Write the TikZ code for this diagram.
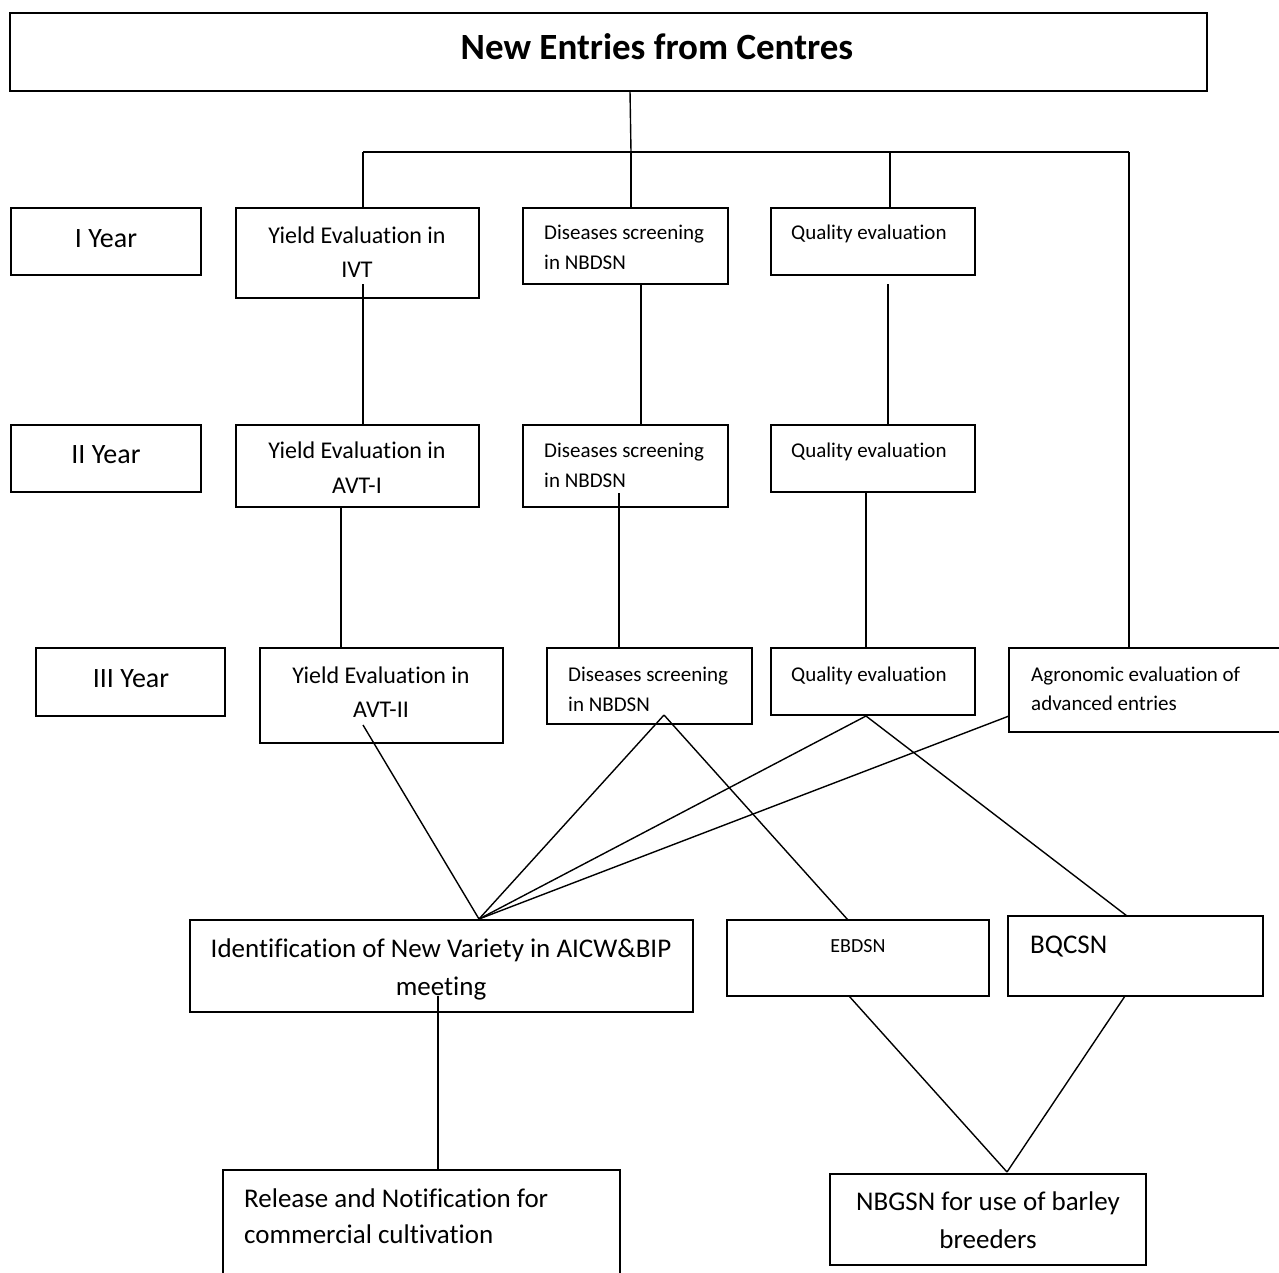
\documentclass[tikz,border=0pt]{standalone}
\usepackage{fontspec}
\setmainfont{Carlito}[Ligatures={NoCommon,NoRare,NoContextual}]
\usetikzlibrary{fit}
\begin{document}
\begin{tikzpicture}[x=1pt,y=-1pt,
  box/.style={draw, line width=1.7pt, inner sep=0pt, rectangle},
  conn/.style={line width=1.4pt},
  tb/.style={inner sep=0pt, anchor=base},
  tl/.style={inner sep=0pt, anchor=base west},
  fh/.style={font=\fontsize{37}{44}\selectfont\bfseries},
  fy/.style={font=\fontsize{28}{32}\selectfont},
  fm/.style={font=\fontsize{24}{28}\selectfont},
  fs/.style={font=\fontsize{21}{25}\selectfont},
  fx/.style={font=\fontsize{20}{24}\selectfont},
  fl/.style={font=\fontsize{27}{31}\selectfont}]
\fill[white] (0,0) rectangle (1279,1272);
\useasboundingbox (0,0) rectangle (1279,1272);

% boxes
\node[box, fit={(10,13) (1207,91)}] (top) {};
\node[box, fit={(11,208) (201,275)}] (y1) {};
\node[box, fit={(236,208) (479,298)}] (ivt) {};
\node[box, fit={(523,208) (728,284)}] (dis1) {};
\node[box, fit={(771,208) (975,275)}] (q1) {};
\node[box, fit={(11,425) (201,492)}] (y2) {};
\node[box, fit={(236,425) (479,507)}] (avt1) {};
\node[box, fit={(523,425) (728,507)}] (dis2) {};
\node[box, fit={(771,425) (975,492)}] (q2) {};
\node[box, fit={(36,648) (225,716)}] (y3) {};
\node[box, fit={(260,648) (503,743)}] (avt2) {};
\node[box, fit={(547,648) (752,724)}] (dis3) {};
\node[box, fit={(771,648) (975,715)}] (q3) {};
\node[box, fit={(1009,648) (1290,732)}] (agr) {};
\node[box, fit={(190,920) (693,1012)}] (ident) {};
\node[box, fit={(727,920) (989,996)}] (ebdsn) {};
\node[box, fit={(1008,916) (1263,996)}] (bqcsn) {};
\node[box, fit={(223,1170) (620,1300)}] (rel) {};
\node[box, fit={(830,1174) (1146,1265)}] (nbgsn) {};

% texts
\node[tb, fh] (t-top) at (657,59) {New Entries from Centres};
\node[tb, fy] (t-y1) at (106,247) {I Year};
\node[tb, fy] (t-y2) at (106,463) {II Year};
\node[tb, fy] (t-y3) at (131,687) {III Year};
\node[tb, fm] (t-ivt1) at (357,243) {Yield Evaluation in};
\node[tb, fm] (t-ivt2) at (357,277) {IVT};
\node[tb, fm] (t-avt1a) at (357,458) {Yield Evaluation in};
\node[tb, fm] (t-avt1b) at (357,493) {AVT-I};
\node[tb, fm] (t-avt2a) at (381,683) {Yield Evaluation in};
\node[tb, fm] (t-avt2b) at (381,717) {AVT-II};
\node[tl, fs] (t-d1a) at (544,239) {Diseases screening};
\node[tl, fs] (t-d1b) at (544,269) {in NBDSN};
\node[tl, fs] (t-d2a) at (544,457) {Diseases screening};
\node[tl, fs] (t-d2b) at (544,487) {in NBDSN};
\node[tl, fs] (t-d3a) at (568,681) {Diseases screening};
\node[tl, fs] (t-d3b) at (568,711) {in NBDSN};
\node[tl, fs] (t-q1) at (791,239) {Quality evaluation};
\node[tl, fs] (t-q2) at (791,457) {Quality evaluation};
\node[tl, fs] (t-q3) at (791,681) {Quality evaluation};
\node[tl, fs] (t-ag1) at (1031,681) {Agronomic evaluation of};
\node[tl, fs] (t-ag2) at (1031,710) {advanced entries};
\node[tb, fl] (t-id1) at (441,957) {Identification of New Variety in AICW\&BIP};
\node[tb, fl] (t-id2) at (441,995) {meeting};
\node[tb, fx] (t-eb) at (858,952) {EBDSN};
\node[tl, fl] (t-bq) at (1030,953) {BQCSN};
\node[tl, fl] (t-r1) at (244,1207) {Release and Notification for};
\node[tl, fl] (t-r2) at (244,1243) {commercial cultivation};
\node[tb, fl] (t-n1) at (988,1210) {NBGSN for use of barley};
\node[tb, fl] (t-n2) at (988,1248) {breeders};

% junction coordinates
\coordinate (c-top) at (630,91);
\coordinate (h0) at (631,152);
\coordinate (hL) at (363,152);
\coordinate (hQ) at (890,152);
\coordinate (hR) at (1129,152);
\coordinate (ivt-o) at (363,284);
\coordinate (dis1-o) at (641,284);
\coordinate (q1-o) at (888,284);
\coordinate (avt1-o) at (341,507);
\coordinate (dis2-o) at (619,493);
\coordinate (q2-o) at (866,492);
\coordinate (avt2-o) at (363,725);
\coordinate (dis3-o) at (664,715);
\coordinate (q3-o) at (866,716);
\coordinate (agr-o) at (1009,716);
\coordinate (id-in) at (479,919);
\coordinate (id-o) at (438,996);
\coordinate (eb-in) at (848,920);
\coordinate (bq-in) at (1127,916);
\coordinate (eb-o) at (849,996);
\coordinate (bq-o) at (1125,996);
\coordinate (nb-in) at (1007,1172);

% connectors
\draw[conn] (c-top) -- (h0);
\draw[conn] (hL) -- (hR);
\draw[conn] (hL) -- (hL |- ivt.north);
\draw[conn] (h0) -- (h0 |- dis1.north);
\draw[conn] (hQ) -- (hQ |- q1.north);
\draw[conn] (hR) -- (hR |- agr.north);
\draw[conn] (ivt-o) -- (ivt-o |- avt1.north);
\draw[conn] (dis1-o) -- (dis1-o |- dis2.north);
\draw[conn] (q1-o) -- (q1-o |- q2.north);
\draw[conn] (avt1-o) -- (avt1-o |- avt2.north);
\draw[conn] (dis2-o) -- (dis2-o |- dis3.north);
\draw[conn] (q2-o) -- (q2-o |- q3.north);
\draw[conn] (avt2-o) -- (id-in);
\draw[conn] (dis3-o) -- (id-in);
\draw[conn] (dis3-o) -- (eb-in);
\draw[conn] (q3-o) -- (id-in);
\draw[conn] (q3-o) -- (bq-in);
\draw[conn] (agr-o) -- (id-in);
\draw[conn] (id-o) -- (id-o |- rel.north);
\draw[conn] (eb-o) -- (nb-in);
\draw[conn] (bq-o) -- (nb-in);
\end{tikzpicture}
\end{document}
